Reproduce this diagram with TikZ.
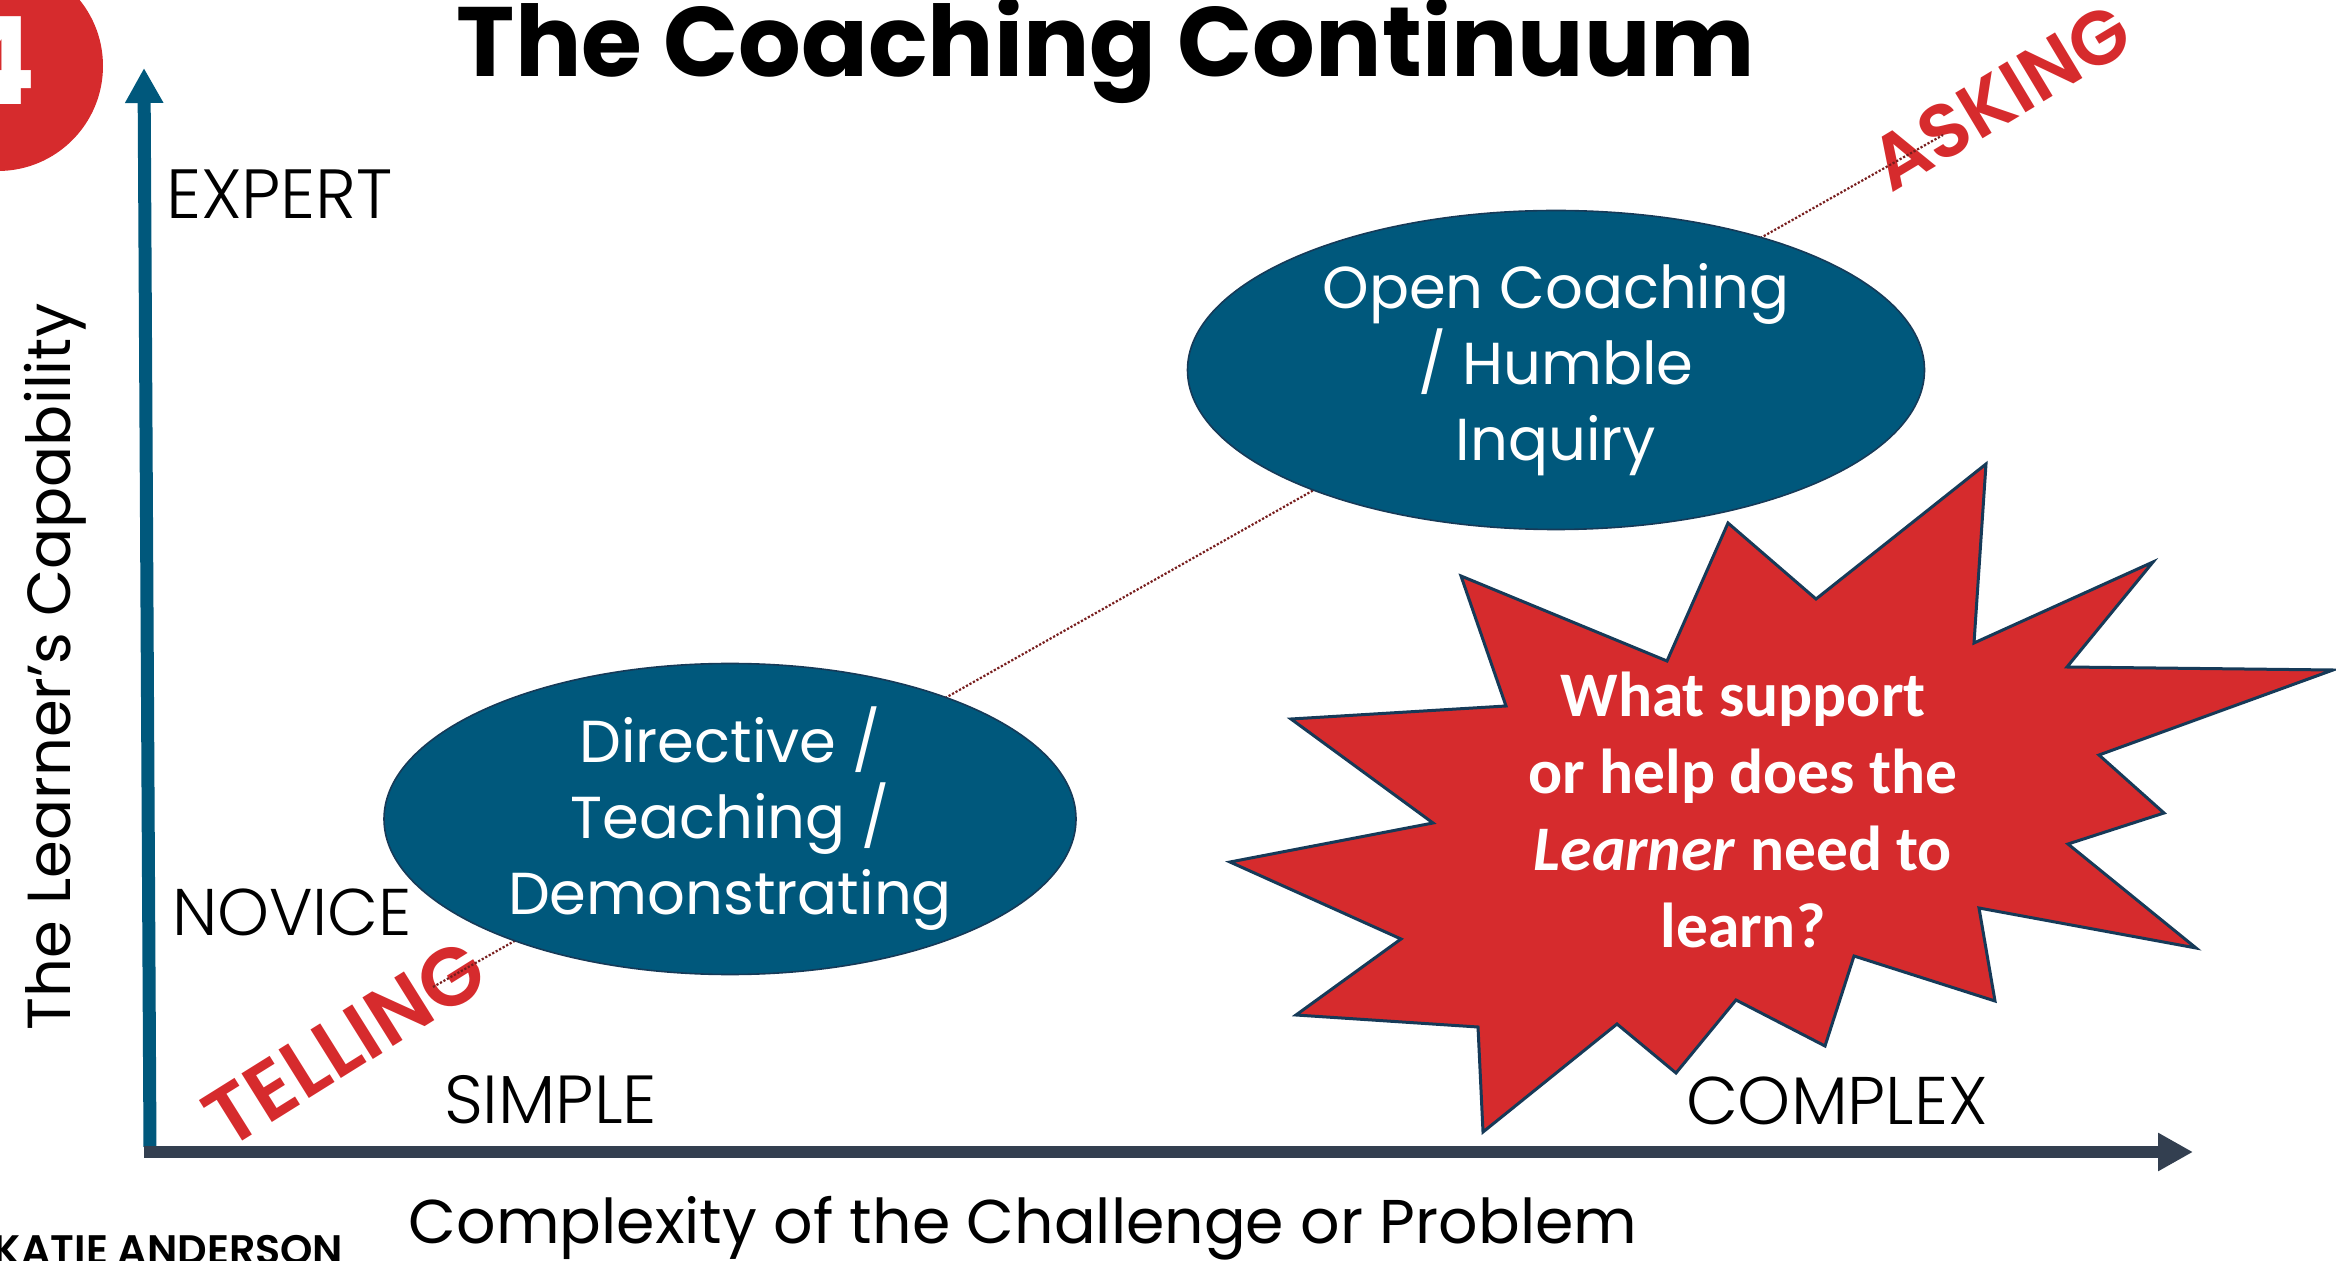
\documentclass[tikz,border=0pt]{standalone}
\usepackage{fontspec}
\setmainfont{Poppins}
\newfontfamily\lightsf{Poppins Light}
\newfontfamily\semisf{Poppins SemiBold}
\newfontfamily\calib{Carlito}
\usetikzlibrary{arrows.meta,shapes.geometric}

\definecolor{coachblue}{RGB}{0,88,124}
\definecolor{axisslate}{RGB}{51,63,80}
\definecolor{alertred}{RGB}{214,43,45}
\definecolor{dotred}{RGB}{120,30,30}
\definecolor{edgenavy}{RGB}{22,58,88}

\tikzset{
  plain/.style={inner sep=0pt, outer sep=0pt},
  axislabel/.style={plain, font=\lightsf\fontsize{34}{40}\selectfont, text=black},
  bubble/.style={ellipse, draw=edgenavy, line width=0.8pt, fill=coachblue, inner sep=0pt},
  bubbletext/.style={plain, align=center, text=white, font=\fontsize{29.6}{38}\selectfont},
  stance/.style={plain, text=alertred, font=\semisf\fontsize{38}{40}\selectfont},
}

\begin{document}
\begin{tikzpicture}[x=0.5pt, y=-0.5pt]
\useasboundingbox (0,0) rectangle (2336,1261);

% badge in the corner
\fill[alertred] (-2,66) circle (105);
\node[plain, anchor=base, text=white, font=\bfseries\fontsize{61}{61}\selectfont] (badge) at (-5,105) {4};

% title
\node[plain, anchor=base, font=\bfseries\fontsize{49.3}{52}\selectfont] (title) at (1106,77) {The Coaching Continuum};

% axes
\coordinate (origin) at (144,1152);
\coordinate (ybase) at (150,1147);
\coordinate (ytip) at (144,68);
\coordinate (xtip) at (2193,1152);
\draw[coachblue, line width=6.5pt, -{Triangle[length=17.5pt, width=18pt]}] (ybase) -- (ytip);
\draw[axisslate, line width=6pt, -{Triangle[length=17.5pt, width=18pt]}] (origin) -- (xtip);

% axis end labels
\node[axislabel, anchor=base west, font=\lightsf\fontsize{34.8}{40}\selectfont] (expert) at (166,219) {EXPERT};
\node[axislabel, anchor=base west, font=\lightsf\fontsize{33}{40}\selectfont] (novice) at (172,935) {NOVICE};
\node[axislabel, anchor=base west] (simple) at (444,1123) {SIMPLE};
\node[axislabel, anchor=base west, font=\lightsf\fontsize{33.7}{40}\selectfont] (complex) at (1686,1124) {COMPLEX};

% axis titles
\node[plain, anchor=base, rotate=90, font=\fontsize{30.4}{38}\selectfont] (ytitle) at (70,667) {The Learner’s Capability};
\node[plain, anchor=base, font=\fontsize{30.9}{38}\selectfont] (xtitle) at (1023,1243) {Complexity of the Challenge or Problem};

% signature
\node[plain, anchor=base west, font=\semisf\fontsize{20.6}{23}\selectfont] (author) at (-6,1264) {KATIE ANDERSON};

% continuum line
\coordinate (tellEnd) at (433,987);
\coordinate (askEnd) at (1943,135);
\node[stance, rotate=32, font=\semisf\fontsize{41}{42}\selectfont] (telling) at (345,1043) {TELLING};
\node[stance, rotate=31] (asking) at (2001,97) {ASKING};
\draw[dotred, line width=1.1pt, dash pattern=on 1.1pt off 0.9pt] (tellEnd) -- (askEnd);

% coaching modes
\node[bubble, minimum width=346pt, minimum height=155.5pt] (directive) at (730,819) {};
\node[bubbletext] (directiveText) at (directive.center) {Directive /\\Teaching /\\Demonstrating};
\node[bubble, minimum width=368.5pt, minimum height=159.5pt] (open) at (1556,370) {};
\node[bubbletext] (openText) at (open.center) {Open Coaching\\/ Humble\\Inquiry};

% question burst
\filldraw[fill=alertred, draw=edgenavy, line width=1.5pt, line join=miter]
  (1986,464) -- (1974,643) -- (2153,562) -- (2067,667) -- (2333,670) -- (2099,755)
  -- (2164,813) -- (2068,844) -- (2196,948) -- (1979,908) -- (1995,1001) -- (1854,956)
  -- (1825,1046) -- (1736,1000) -- (1676,1073) -- (1617,1024) -- (1483,1132) -- (1478,1027)
  -- (1296,1015) -- (1401,939) -- (1230,862) -- (1433,823) -- (1291,719) -- (1506,706)
  -- (1461,576) -- (1667,661) -- (1728,523) -- (1816,599) -- cycle;
\node[plain, align=center, text=white, font=\calib\bfseries\fontsize{31.75}{38.5}\selectfont] (question) at (1743,810)
  {What support\\or help does the\\\textit{Learner} need to\\learn?};
\end{tikzpicture}
\end{document}
